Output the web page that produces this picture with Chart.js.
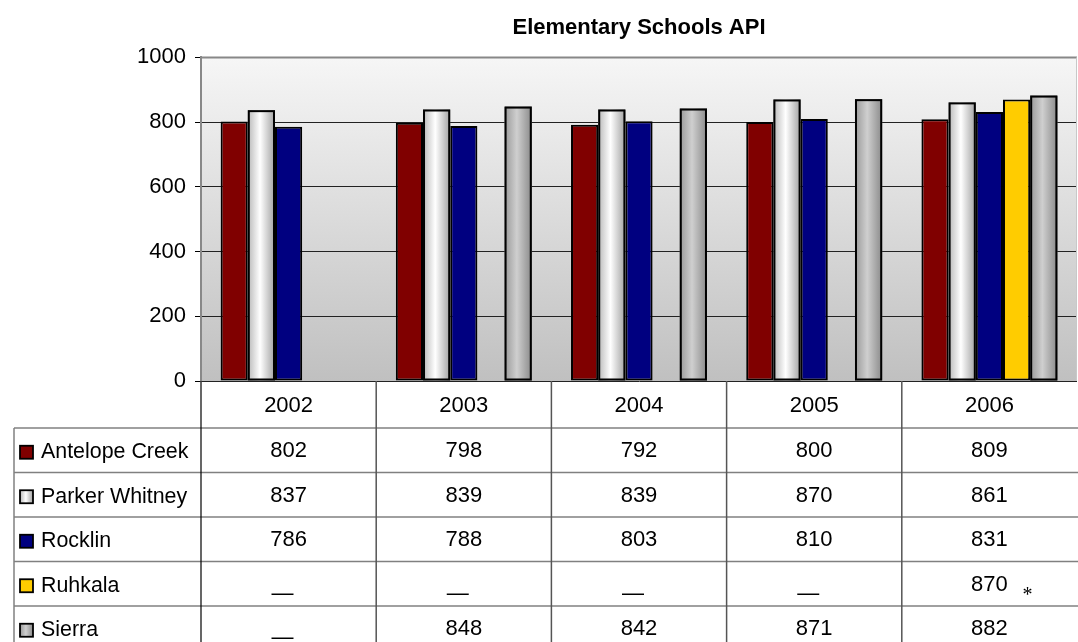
<!DOCTYPE html>
<html>
<head>
<meta charset="utf-8">
<title>Elementary Schools API</title>
<script src="https://cdn.jsdelivr.net/npm/chart.js@4.4.1/dist/chart.umd.min.js"></script>
<style>
  html, body { margin: 0; padding: 0; background: #fff; }
  #wrap { width: 1078px; height: 642px; }
</style>
</head>
<body>
<div id="wrap"><canvas id="chart" width="1078" height="642"></canvas></div>
<script>
// data
const years = ["2002", "2003", "2004", "2005", "2006"];
const schools = ["Antelope Creek", "Parker Whitney", "Rocklin", "Ruhkala", "Sierra"];
const antelopeCreek = [802, 798, 792, 800, 809];
const parkerWhitney = [837, 839, 839, 870, 861];
const rocklin = [786, 788, 803, 810, 831];
const ruhkala = [null, null, null, null, 870];
const sierra = [null, 848, 842, 871, 882];
const ruhkalaNotes = ["", "", "", "", "*"];
const yTicks = [0, 200, 400, 600, 800, 1000];

const FONT = "'Liberation Sans', Arial, sans-serif";

// styles, one per school
const fills = ["#800000", "#f0f0f0", "#000080", "#ffcc00", "#b0b0b0"];
const shades = [
  null,
  [[0, "#b8b8b8"], [0.45, "#ffffff"], [1, "#a0a0a0"]],
  null,
  null,
  [[0, "#999999"], [0.45, "#cfcfcf"], [1, "#8a8a8a"]]
];

const seriesValues = [antelopeCreek, parkerWhitney, rocklin, ruhkala, sierra];

function line(ctx, x1, y1, x2, y2) {
  ctx.beginPath();
  ctx.moveTo(x1, y1);
  ctx.lineTo(x2, y2);
  ctx.stroke();
}

function fillFor(ctx, i, left, width) {
  if (!shades[i]) return fills[i];
  const g = ctx.createLinearGradient(left, 0, left + width, 0);
  shades[i].forEach(([stop, c]) => g.addColorStop(stop, c));
  return g;
}

/* plot area background: light at top, grey at the bottom */
const plotBg = {
  id: "plotBg",
  beforeDraw(chart) {
    const { ctx, chartArea: a } = chart;
    const g = ctx.createLinearGradient(0, a.top, 0, a.bottom);
    g.addColorStop(0, "#f6f6f6");
    g.addColorStop(1, "#c0c0c0");
    ctx.save();
    ctx.fillStyle = g;
    ctx.fillRect(a.left, a.top, a.right - a.left, a.bottom - a.top);
    ctx.restore();
  },
  afterDraw(chart) {
    const { ctx, chartArea: a } = chart;
    ctx.save();
    ctx.strokeStyle = "#888";
    ctx.lineWidth = 2;
    line(ctx, a.left, a.top, a.right, a.top);
    ctx.strokeStyle = "#c8c8c8";
    ctx.lineWidth = 1;
    line(ctx, a.right - 0.5, a.top, a.right - 0.5, a.bottom);
    ctx.restore();
  }
};

/* cylinder shading for the white and grey bars */
const shadePlugin = {
  id: "shade",
  afterDatasetsDraw(chart) {
    const ctx = chart.ctx;
    chart.data.datasets.forEach((ds, di) => {
      if (!shades[di]) return;
      const meta = chart.getDatasetMeta(di);
      meta.data.forEach((bar, i) => {
        if (ds.data[i] == null) return;
        const { x, y, base, width } = bar.getProps(["x", "y", "base", "width"], true);
        const left = x - width / 2;
        ctx.save();
        ctx.fillStyle = fillFor(ctx, di, left, width);
        ctx.fillRect(left, y, width, base - y);
        ctx.strokeStyle = "#000";
        ctx.lineWidth = 2;
        ctx.strokeRect(left + 1, y + 1, width - 2, base - y - 2);
        ctx.restore();
      });
    });
  }
};

/* data table under the plot, with the legend keys in the first column */
const dataTable = {
  id: "dataTable",
  afterDraw(chart) {
    const { ctx, chartArea: a } = chart;
    const xs = chart.scales.x;
    const n = years.length;
    const cw = (a.right - a.left) / n;
    const headTop = a.bottom;
    const headH = 47;
    const rowH = 44.5;
    const rowTop = r => headTop + headH + r * rowH;
    const bottom = chart.height;
    const tableLeft = 14;

    ctx.save();
    // grid of the table
    ctx.strokeStyle = "#808080";
    ctx.lineWidth = 1.5;
    for (let r = 0; r <= schools.length; r++) {
      line(ctx, tableLeft, rowTop(r), chart.width, rowTop(r));
    }
    line(ctx, tableLeft, rowTop(0), tableLeft, bottom);
    ctx.strokeStyle = "#555";
    for (let i = 1; i < n; i++) {
      const x = a.left + i * cw;
      line(ctx, x, headTop, x, bottom);
    }
    ctx.strokeStyle = "#000";
    ctx.lineWidth = 1.2;
    line(ctx, a.left, headTop, a.left, bottom);

    ctx.fillStyle = "#000";
    ctx.font = "22px " + FONT;
    ctx.textBaseline = "middle";
    ctx.textAlign = "center";
    years.forEach((yr, i) => {
      ctx.fillText(yr, xs.getPixelForValue(i), headTop + headH / 2 + 1);
    });

    seriesValues.forEach((vals, r) => {
      const cy = rowTop(r) + rowH / 2 + 2;
      // legend key
      ctx.fillStyle = fillFor(ctx, r, 20, 13);
      ctx.fillRect(20, cy - 6.5, 13, 13);
      ctx.strokeStyle = "#000";
      ctx.lineWidth = 1.8;
      ctx.strokeRect(20, cy - 6.5, 13, 13);

      ctx.fillStyle = "#000";
      ctx.textAlign = "left";
      ctx.font = "21.4px " + FONT;
      ctx.fillText(schools[r], 41, cy);

      ctx.font = "22px " + FONT;
      ctx.textAlign = "center";
      vals.forEach((v, i) => {
        const x = xs.getPixelForValue(i);
        if (v == null) {
          ctx.fillText("\u2014", x - 6, cy + 8);
        } else {
          ctx.fillText(String(v), x, cy - 1);
        }
      });
    });

    // footnote mark next to Ruhkala 2006
    ctx.font = "20px 'Liberation Serif', serif";
    ctx.textAlign = "center";
    ruhkalaNotes.forEach((note, i) => {
      if (!note) return;
      ctx.fillText(note, xs.getPixelForValue(i) + 38, rowTop(3) + rowH / 2 + 12);
    });
    ctx.restore();
  }
};

const datasets = schools.map((name, i) => ({
  label: name,
  data: seriesValues[i],
  backgroundColor: fills[i],
  borderColor: "#000",
  borderWidth: 2,
  borderSkipped: false
}));

new Chart(document.getElementById("chart"), {
  type: "bar",
  data: { labels: years, datasets },
  options: {
    responsive: false,
    animation: false,
    devicePixelRatio: 1,
    layout: { padding: { left: 0, right: 1, top: 0, bottom: 261 } },
    datasets: {
      bar: { categoryPercentage: 0.776, barPercentage: 1.0 }
    },
    plugins: {
      legend: { display: false },
      tooltip: { enabled: false },
      title: {
        display: true,
        fullSize: false,
        text: "Elementary Schools API",
        color: "#000",
        font: { family: FONT, size: 22, weight: "bold" },
        padding: { top: 15, bottom: 16 }
      }
    },
    scales: {
      x: { display: false },
      y: {
        min: 0,
        max: 1000,
        afterBuildTicks: s => { s.ticks = yTicks.map(v => ({ value: v })); },
        afterFit: s => { s.width = 201; },
        ticks: {
          color: "#000",
          padding: 9,
          font: { family: FONT, size: 22 },
          callback: v => String(v)
        },
        grid: { color: "#222", lineWidth: 1, tickLength: 6, tickColor: "#000" },
        border: { color: "#888", width: 2 }
      }
    }
  },
  plugins: [plotBg, shadePlugin, dataTable]
});
</script>
</body>
</html>
